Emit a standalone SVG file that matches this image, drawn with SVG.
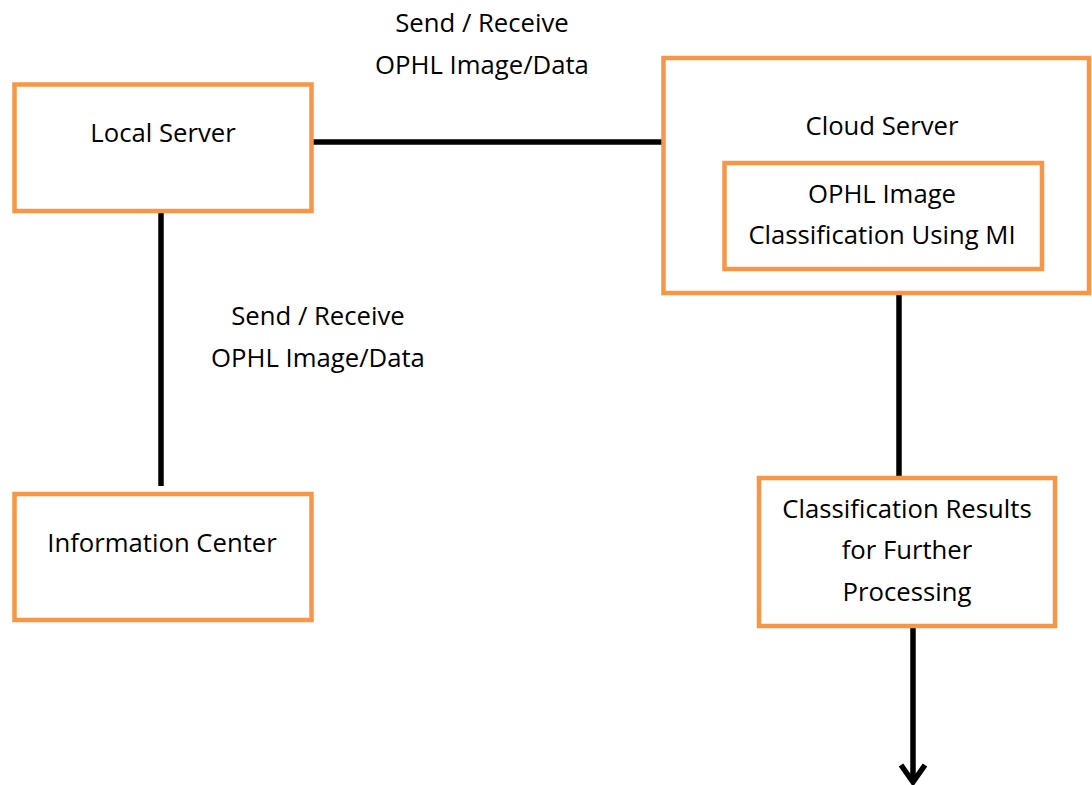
<svg xmlns="http://www.w3.org/2000/svg" width="1092" height="785" viewBox="0 0 1092 785">
<style>
.box{fill:#fff;stroke:#F79646;stroke-width:4.5}
.t{font-family:"Open Sans","Liberation Sans",sans-serif;font-size:25.7px;fill:#000;text-anchor:middle}
.c{stroke:#000;stroke-width:5.5;fill:none}
</style>
<rect width="1092" height="785" fill="#fff"/>
<g id="connectors">
<line class="c" x1="313" y1="142" x2="663" y2="142"/>
<line class="c" x1="161" y1="213" x2="161" y2="486"/>
<line class="c" x1="899" y1="295" x2="899" y2="477"/>
<line class="c" x1="913" y1="628" x2="913" y2="781"/>
<polyline class="c" points="901,765 913,782 925,765"/>
</g>
<g id="label-top">
<text class="t" x="482" y="32">Send / Receive</text>
<text class="t" x="482" y="74">OPHL Image/Data</text>
</g>
<g id="label-left">
<text class="t" x="318" y="325">Send / Receive</text>
<text class="t" x="318" y="367">OPHL Image/Data</text>
</g>
<g id="local-server">
<rect class="box" x="14.5" y="84.5" width="297" height="126.5"/>
<text class="t" x="163" y="142">Local Server</text>
</g>
<g id="cloud-server">
<rect class="box" x="663.5" y="58" width="425.5" height="235"/>
<text class="t" x="882" y="135">Cloud Server</text>
</g>
<g id="ophl-classification">
<rect class="box" x="724.5" y="163" width="317.5" height="106"/>
<text class="t" x="882" y="203">OPHL Image</text>
<text class="t" x="882" y="244">Classification Using MI</text>
</g>
<g id="information-center">
<rect class="box" x="14.5" y="494" width="297" height="126"/>
<text class="t" x="162" y="552">Information Center</text>
</g>
<g id="classification-results">
<rect class="box" x="759" y="478" width="296" height="148"/>
<text class="t" x="907" y="518">Classification Results</text>
<text class="t" x="907" y="559">for Further</text>
<text class="t" x="907" y="601">Processing</text>
</g>
</svg>
